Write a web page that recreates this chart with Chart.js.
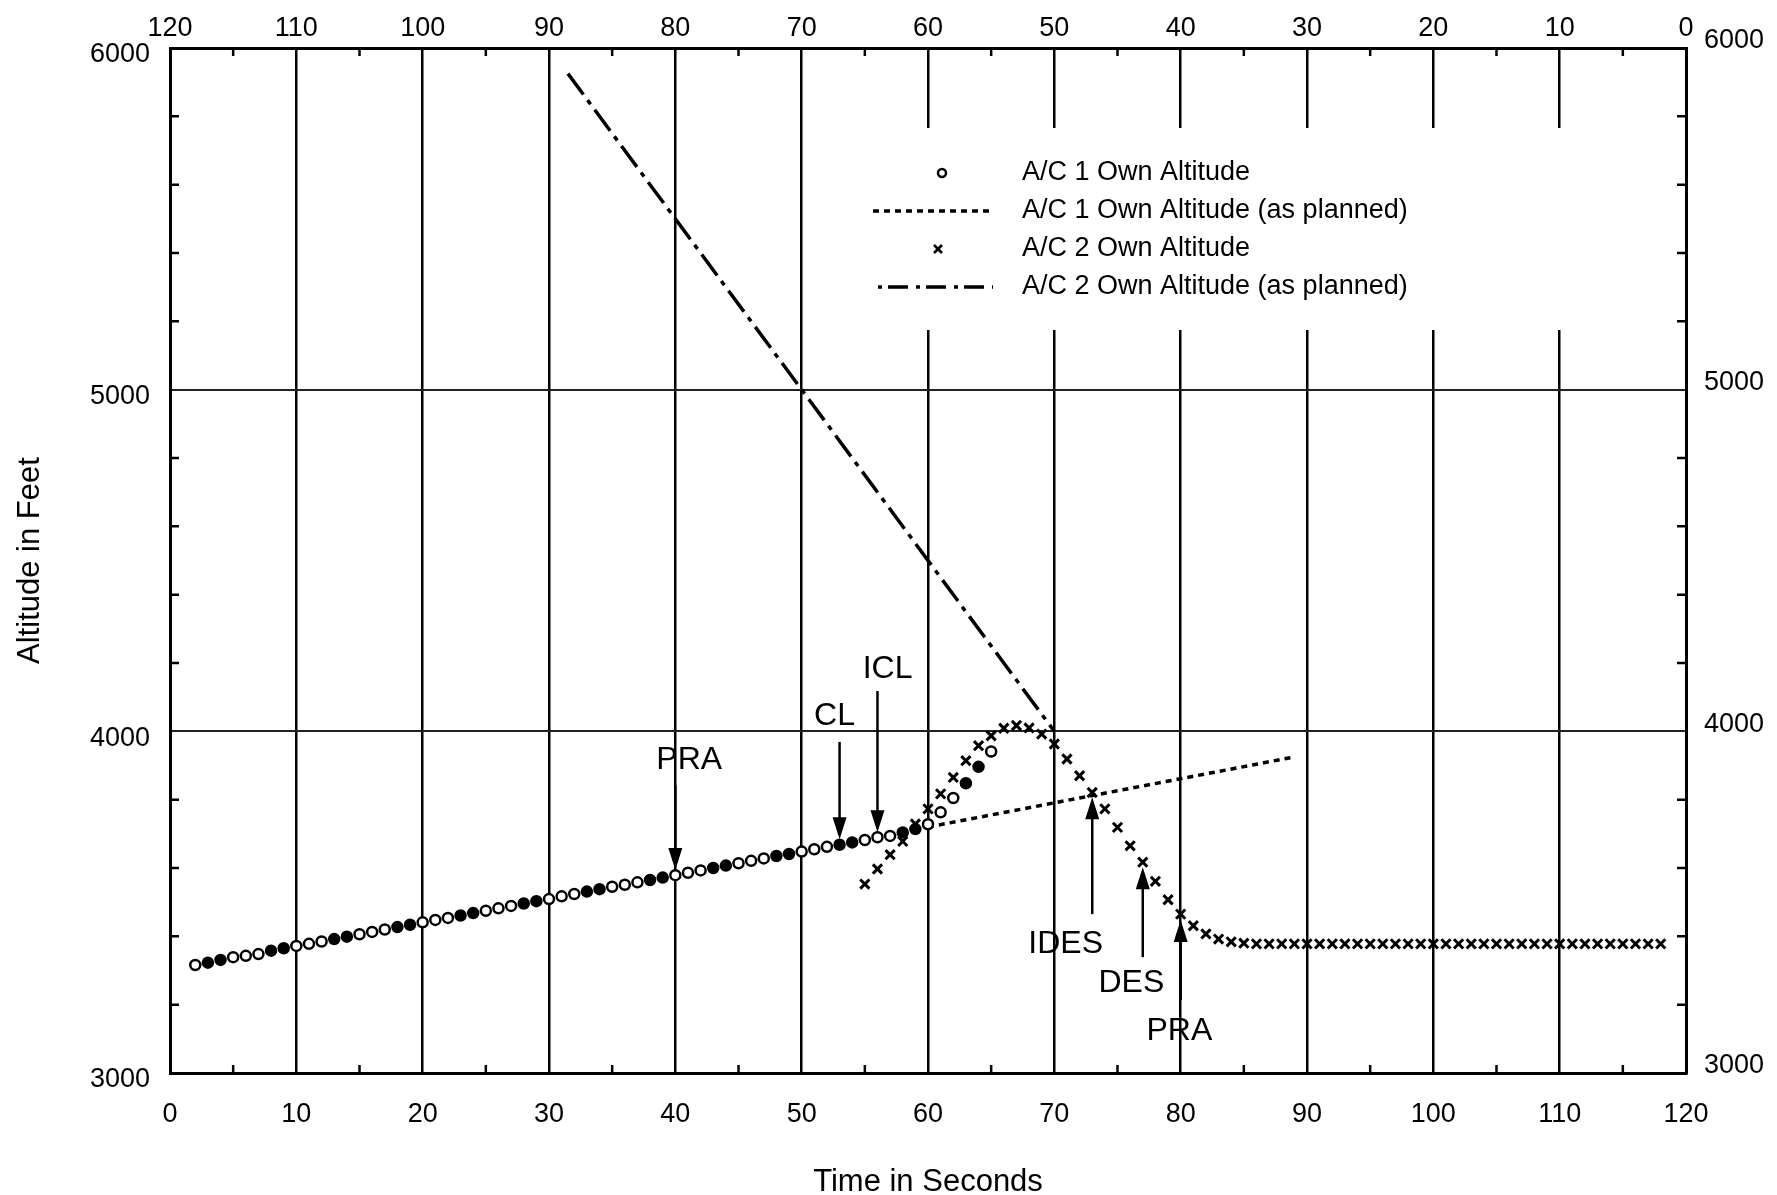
<!DOCTYPE html>
<html>
<head>
<meta charset="utf-8">
<title>Altitude in Feet vs Time in Seconds</title>
<script src="https://cdn.jsdelivr.net/npm/chart.js@4.4.1/dist/chart.umd.min.js"></script>
<style>
  html, body { margin: 0; padding: 0; background: #fff; }
  #chart { display: block; }
</style>
</head>
<body>
<canvas id="chart" width="1777" height="1195"></canvas>
<script>
/* DATA */
const ac1Time = [2,3,4,5,6,7,8,9,10,11,12,13,14,15,16,17,18,19,20,21,22,23,24,25,26,27,28,29,30,31,32,33,
  34,35,36,37,38,39,40,41,42,43,44,45,46,47,48,49,50,51,52,53,54,55,56,57,58,59,60,61,62,63,64,65];
const ac1Alt = [3316,3323,3331,3339,3343,3348,3358,3365,3372,3378,3385,3392,3399,3406,3413,3420,3427,3434,
  3441,3448,3454,3461,3468,3475,3482,3489,3496,3503,3509,3517,3524,3531,3538,3545,3551,3558,3565,3572,3579,
  3586,3593,3600,3607,3614,3621,3628,3635,3641,3648,3655,3662,3668,3675,3682,3690,3694,3704,3714,3728,
  3763,3805,3848,3896,3941];

const ac1PlanTime = [60, 89];
const ac1PlanAlt = [3720, 3925];

const ac2Time = [55,56,57,58,59,60,61,62,63,64,65,66,67,68,69,70,71,72,73,74,75,76,77,78,79,80,81,82,83,84,
  85,86,87,88,89,90,91,92,93,94,95,96,97,98,99,100,101,102,103,104,105,106,107,108,109,110,111,112,113,114,
  115,116,117,118];
const ac2Alt = [3553,3597,3639,3678,3729,3773,3817,3865,3914,3958,3987,4009,4017,4010,3992,3963,3919,3870,
  3821,3773,3719,3665,3617,3561,3507,3465,3431,3407,3392,3384,3380,3378,3378,3378,3378,3378,3378,3378,3378,
  3378,3378,3378,3378,3378,3378,3378,3378,3378,3378,3378,3378,3378,3378,3378,3378,3378,3378,3378,3378,3378,
  3378,3378,3378,3378];

const ac2PlanTime = [31.5, 70];
const ac2PlanAlt = [5925, 4000];

const seriesNames = ["A/C 1 Own Altitude", "A/C 1 Own Altitude (as planned)",
  "A/C 2 Own Altitude", "A/C 2 Own Altitude (as planned)"];

/* event arrows: label, time of arrow, tip / tail altitude, label position */
const eventLabels = ["PRA", "CL", "ICL", "IDES", "DES", "PRA"];
const eventTime = [40, 53, 56, 73, 77, 80];
const eventTipAlt = [3594, 3684, 3705, 3807, 3602, 3448];
const eventTailAlt = [3842, 3969, 4118, 3465, 3339, 3214];
const eventTextTime = [41.1, 52.6, 56.8, 70.9, 76.1, 79.9];
const eventTextAlt = [3915, 4045, 4182, 3377, 3262, 3123];

const minorTimeStep = 5;
const minorAltStep = 200;

const FONT = "'Liberation Sans', Arial, sans-serif";

function pts(xs, ys) {
  return xs.map((x, i) => ({ x, y: ys[i] }));
}

/* PLUGIN: inner ticks, legend box, arrows */
const overlay = {
  id: "overlay",
  beforeDatasetsDraw(chart) {
    const { ctx, chartArea: a } = chart;
    const sx = chart.scales.x, sy = chart.scales.y;
    ctx.save();
    ctx.strokeStyle = "#000";
    ctx.lineWidth = 2.5;
    ctx.beginPath();
    for (let t = minorTimeStep; t < sx.max; t += minorTimeStep * 2) {
      const px = sx.getPixelForValue(t);
      ctx.moveTo(px, a.bottom); ctx.lineTo(px, a.bottom - 8);
      ctx.moveTo(px, a.top); ctx.lineTo(px, a.top + 8);
    }
    for (let v = sy.min + minorAltStep; v < sy.max; v += minorAltStep) {
      if (v % 1000 === 0) continue;
      const py = sy.getPixelForValue(v);
      ctx.moveTo(a.left, py); ctx.lineTo(a.left + 9, py);
      ctx.moveTo(a.right, py); ctx.lineTo(a.right - 9, py);
    }
    ctx.stroke();

    // legend area hides the grid
    ctx.fillStyle = "#fff";
    ctx.fillRect(860, 128, 760, 202);
    ctx.restore();
  },
  afterDatasetsDraw(chart) {
    const { ctx } = chart;
    const sx = chart.scales.x, sy = chart.scales.y;
    ctx.save();

    // arrows
    ctx.strokeStyle = "#000";
    ctx.fillStyle = "#000";
    ctx.lineWidth = 2.5;
    eventLabels.forEach((lab, i) => {
      const px = sx.getPixelForValue(eventTime[i]);
      const tip = sy.getPixelForValue(eventTipAlt[i]);
      const tail = sy.getPixelForValue(eventTailAlt[i]);
      const dir = tip > tail ? 1 : -1;
      ctx.beginPath();
      ctx.moveTo(px, tail);
      ctx.lineTo(px, tip - dir * 18);
      ctx.stroke();
      ctx.beginPath();
      ctx.moveTo(px, tip);
      ctx.lineTo(px - 7, tip - dir * 22);
      ctx.lineTo(px + 7, tip - dir * 22);
      ctx.closePath();
      ctx.fill();

      ctx.font = "32px " + FONT;
      ctx.textAlign = "center";
      ctx.textBaseline = "middle";
      ctx.fillText(lab, sx.getPixelForValue(eventTextTime[i]), sy.getPixelForValue(eventTextAlt[i]));
    });

    // legend
    const rows = [173, 211, 249, 287];
    const ds = chart.data.datasets;
    ctx.font = "27px " + FONT;
    ctx.textAlign = "left";
    ctx.textBaseline = "middle";
    ds.forEach((d, i) => ctx.fillText(d.label, 1022, rows[i]));

    ctx.lineWidth = 2.5;
    ctx.beginPath();
    ctx.arc(942, rows[0], 4, 0, Math.PI * 2);
    ctx.stroke();

    ctx.lineWidth = ds[1].borderWidth;
    ctx.setLineDash(ds[1].borderDash);
    ctx.beginPath();
    ctx.moveTo(873, rows[1]); ctx.lineTo(993, rows[1]);
    ctx.stroke();

    ctx.setLineDash([]);
    ctx.lineWidth = 2.5;
    ctx.beginPath();
    ctx.moveTo(934, rows[2] - 4); ctx.lineTo(942, rows[2] + 4);
    ctx.moveTo(942, rows[2] - 4); ctx.lineTo(934, rows[2] + 4);
    ctx.stroke();

    ctx.lineWidth = ds[3].borderWidth;
    ctx.setLineDash([4, 6, 20, 8]);
    ctx.beginPath();
    ctx.moveTo(878, rows[3]); ctx.lineTo(993, rows[3]);
    ctx.stroke();
    ctx.restore();
  }
};

new Chart(document.getElementById("chart"), {
  type: "scatter",
  data: {
    datasets: [
      {
        label: seriesNames[0],
        data: pts(ac1Time, ac1Alt),
        showLine: false,
        pointStyle: "circle",
        pointRadius: 5,
        pointBorderWidth: 2.5,
        pointBorderColor: "#000",
        pointBackgroundColor: c => (c.dataIndex % 5 === 1 || c.dataIndex % 5 === 2) ? "#000" : "#fff"
      },
      {
        label: seriesNames[1],
        data: pts(ac1PlanTime, ac1PlanAlt),
        showLine: true,
        borderColor: "#000",
        borderWidth: 3.5,
        borderDash: [6, 5],
        pointRadius: 0
      },
      {
        label: seriesNames[2],
        data: pts(ac2Time, ac2Alt),
        showLine: false,
        pointStyle: "crossRot",
        pointRadius: 6.5,
        pointBorderWidth: 3,
        pointBorderColor: "#000"
      },
      {
        label: seriesNames[3],
        data: pts(ac2PlanTime, ac2PlanAlt),
        showLine: true,
        borderColor: "#000",
        borderWidth: 3.5,
        borderDash: [26, 7, 5, 7],
        pointRadius: 0
      }
    ]
  },
  options: {
    responsive: false,
    animation: false,
    devicePixelRatio: 1,
    layout: { padding: 0 },
    plugins: { legend: { display: false }, tooltip: { enabled: false } },
    scales: {
      x: {
        type: "linear", position: "bottom", min: 0, max: 120,
        afterFit: s => { s.height = 122; },
        ticks: { stepSize: 10, color: "#000", font: { family: FONT, size: 27 }, padding: 25, maxRotation: 0,
          callback: v => String(v) },
        grid: { color: "#000", lineWidth: 2.5, drawTicks: false },
        border: { color: "#000", width: 3 },
        title: { display: true, text: "Time in Seconds", color: "#000",
          font: { family: FONT, size: 31 }, padding: { top: 0, bottom: -6 } }
      },
      x2: {
        type: "linear", position: "top", reverse: true, min: 0, max: 120,
        afterFit: s => { s.height = 48; },
        ticks: { stepSize: 10, color: "#000", font: { family: FONT, size: 27 }, padding: -5, maxRotation: 0,
          callback: v => String(v) },
        grid: { display: false },
        border: { color: "#000", width: 3 }
      },
      y: {
        type: "linear", position: "left", min: 3000, max: 6000,
        afterFit: s => { s.width = 170; },
        ticks: { stepSize: 1000, color: "#000", font: { family: FONT, size: 27 }, padding: 20, labelOffset: 7,
          callback: v => String(v) },
        grid: { color: "#222", lineWidth: 2, drawTicks: false },
        border: { color: "#000", width: 3 },
        title: { display: true, text: "Altitude in Feet", color: "#000",
          font: { family: FONT, size: 31 }, padding: { top: 12, bottom: 0 } }
      },
      y2: {
        type: "linear", position: "right", min: 3000, max: 6000,
        afterFit: s => { s.width = 91; },
        ticks: { stepSize: 1000, color: "#000", font: { family: FONT, size: 27 }, padding: 10, labelOffset: -7,
          callback: v => String(v) },
        grid: { display: false },
        border: { color: "#000", width: 3 }
      }
    }
  },
  plugins: [overlay]
});
</script>
</body>
</html>
